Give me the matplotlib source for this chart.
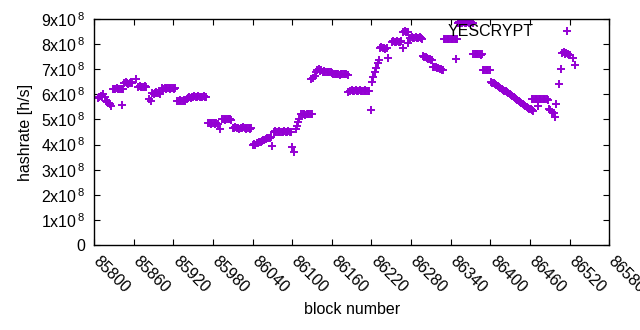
import matplotlib
matplotlib.use("Agg")
import matplotlib.pyplot as plt
import matplotlib.transforms as mtransforms
from matplotlib.ticker import FixedLocator, FuncFormatter

plt.rcParams["font.family"] = ["Liberation Sans", "DejaVu Sans"]
plt.rcParams["mathtext.fontset"] = "custom"
plt.rcParams["mathtext.rm"] = "Liberation Sans"

# block number / hashrate (x1e8 h/s)
blocks = [
    85806, 85808, 85810, 85812, 85814, 85816, 85818, 85820, 85822, 85824, 85826,
    85828, 85830, 85832, 85834, 85836, 85838, 85840, 85842, 85844, 85843,
    85846, 85848, 85850, 85852, 85854, 85856, 85858, 85864,
    85867, 85869, 85871, 85873, 85875, 85877, 85879, 85883, 85886,
    85888, 85890, 85892, 85894, 85896, 85898, 85900,
    85903, 85905, 85907, 85909, 85911, 85913, 85915, 85917, 85919, 85921, 85923,
    85926, 85928, 85930, 85932, 85934, 85936, 85938, 85940, 85942, 85944, 85946,
    85948, 85950, 85952, 85954, 85956, 85958, 85960, 85962, 85964, 85966, 85968, 85970,
    85973, 85975, 85977, 85979, 85981, 85983, 85985, 85987, 85991,
    85994, 85996, 85998, 86000, 86002, 86004, 86006, 86008,
    86010, 86012, 86014, 86016, 86018, 86020, 86022, 86024, 86026, 86028, 86030,
    86032, 86034, 86036, 86038,
    86040, 86042, 86044, 86046, 86048,
    86050, 86052, 86054, 86056, 86058, 86060, 86062, 86064, 86066, 86068, 86070,
    86072, 86074, 86076, 86078, 86080, 86082, 86084, 86086, 86088, 86090, 86092,
    86094, 86096, 86098,
    86100, 86103, 86105, 86107, 86109, 86111,
    86114, 86116, 86118, 86120, 86122, 86124, 86126, 86128, 86130,
    86128, 86131, 86134,
    86136, 86138, 86140, 86142, 86144, 86146, 86148, 86150, 86152, 86154, 86156,
    86158, 86160,
    86162, 86164, 86166, 86168, 86170, 86172, 86174, 86176, 86178, 86180, 86182,
    86184, 86185,
    86188, 86190, 86192, 86194, 86196, 86198, 86200, 86202, 86204, 86206, 86208,
    86210, 86212, 86214, 86216,
    86220, 86221, 86223, 86225, 86227, 86230, 86232,
    86233, 86235, 86237, 86239, 86241, 86243, 86245,
    86251, 86253, 86255, 86257, 86259, 86261, 86263, 86265, 86268, 86276,
    86268, 86270, 86272, 86274, 86276,
    86279, 86281, 86283, 86285, 86287, 86289, 86291, 86293, 86295, 86297,
    86298, 86300, 86302, 86304, 86306, 86308, 86310, 86312,
    86313, 86315, 86317, 86319, 86321, 86323, 86325, 86327, 86329,
    86330, 86332, 86334, 86336, 86338, 86340, 86342, 86344, 86346, 86348, 86350, 86348,
    86351, 86353, 86355, 86357, 86359, 86361, 86363, 86365, 86367, 86369, 86371, 86373,
    86374, 86376, 86378, 86380, 86382, 86384, 86386, 86388,
    86389, 86391, 86393, 86395, 86397, 86399,
    86401, 86403, 86405, 86407, 86409, 86411, 86413, 86415, 86417, 86419, 86421,
    86423, 86425, 86427, 86429, 86431, 86433,
    86435, 86437, 86439, 86441, 86443, 86445, 86447, 86449, 86451, 86453, 86455,
    86457, 86459, 86461, 86463, 86465,
    86463, 86465, 86467, 86469, 86471, 86473, 86475, 86477, 86479, 86481, 86483,
    86485, 86487, 86472,
    86488, 86490, 86493, 86496, 86498, 86500, 86504, 86507,
    86509, 86511, 86513, 86515, 86517, 86519, 86521, 86525, 86528,
]
hashrate = [
    5.85, 5.90, 5.95, 5.90, 6.00, 5.90, 5.75, 5.70, 5.65, 5.60, 5.55,
    6.20, 6.22, 6.20, 6.25, 6.20, 6.20, 6.22, 6.20, 6.20, 5.58,
    6.45, 6.50, 6.45, 6.42, 6.45, 6.48, 6.45, 6.62,
    6.30, 6.32, 6.28, 6.30, 6.30, 6.32, 6.30, 5.80, 5.72,
    6.05, 6.00, 6.05, 6.08, 6.05, 6.05, 6.03,
    6.25, 6.22, 6.25, 6.22, 6.25, 6.25, 6.22, 6.25, 6.25, 6.22, 6.25,
    5.75, 5.75, 5.78, 5.72, 5.75, 5.78, 5.75, 5.80, 5.85, 5.90, 5.85,
    5.90, 5.90, 5.92, 5.90, 5.90, 5.92, 5.90, 5.88, 5.90, 5.92, 5.90, 5.88,
    4.85, 4.85, 4.82, 4.85, 4.85, 4.82, 4.85, 4.80, 4.60,
    5.00, 5.02, 4.98, 5.00, 5.00, 5.02, 5.00, 4.98,
    4.65, 4.65, 4.68, 4.65, 4.65, 4.62, 4.65, 4.65, 4.68, 4.65, 4.62,
    4.65, 4.65, 4.63, 4.65,
    4.00, 4.02, 4.00, 4.05, 4.05,
    4.12, 4.12, 4.15, 4.18, 4.20, 4.22, 4.25, 4.25, 4.28, 4.30, 3.95,
    4.50, 4.52, 4.50, 4.50, 4.52, 4.50, 4.50, 4.50, 4.52, 4.50, 4.50,
    4.52, 4.50, 4.50,
    3.90, 3.72, 4.60, 4.75, 4.90, 5.00,
    5.20, 5.22, 5.20, 5.18, 5.20, 5.20, 5.22, 5.20, 5.20,
    6.60, 6.65, 6.72,
    6.90, 6.95, 7.00, 6.92, 6.95, 6.90, 6.92, 6.90, 6.88, 6.90, 6.90,
    6.88, 6.85,
    6.80, 6.80, 6.82, 6.80, 6.80, 6.78, 6.80, 6.80, 6.82, 6.80, 6.80,
    6.78, 6.10,
    6.15, 6.18, 6.15, 6.15, 6.18, 6.15, 6.15, 6.18, 6.15, 6.15, 6.15,
    6.18, 6.15, 6.15, 6.15,
    5.38, 6.50, 6.70, 6.90, 7.05, 7.25, 7.35,
    7.85, 7.88, 7.85, 7.85, 7.82, 7.85, 7.45,
    8.10, 8.12, 8.10, 8.10, 8.12, 8.10, 8.10, 8.12, 7.85, 8.05,
    8.50, 8.52, 8.50, 8.48, 8.50,
    8.25, 8.27, 8.25, 8.25, 8.27, 8.25, 8.25, 8.27, 8.25, 8.22,
    7.52, 7.50, 7.48, 7.45, 7.42, 7.40, 7.38, 7.35,
    7.10, 7.10, 7.08, 7.05, 7.05, 7.00, 7.00, 6.98, 6.95,
    8.20, 8.22, 8.20, 8.20, 8.22, 8.20, 8.20, 8.22, 8.20, 8.20, 8.20, 7.40,
    8.85, 8.87, 8.85, 8.85, 8.87, 8.85, 8.85, 8.87, 8.85, 8.85, 8.87, 8.85,
    7.60, 7.62, 7.60, 7.60, 7.62, 7.60, 7.58, 7.60,
    6.95, 6.97, 6.95, 6.95, 6.97, 6.95,
    6.50, 6.47, 6.44, 6.40, 6.37, 6.33, 6.30, 6.26, 6.22, 6.18, 6.15,
    6.12, 6.08, 6.05, 6.02, 5.98, 5.95,
    5.90, 5.86, 5.82, 5.78, 5.74, 5.70, 5.66, 5.62, 5.58, 5.54, 5.50,
    5.46, 5.42, 5.40, 5.37, 5.35,
    5.80, 5.82, 5.80, 5.80, 5.82, 5.80, 5.80, 5.82, 5.80, 5.80, 5.82,
    5.80, 5.78, 5.55,
    5.42, 5.38, 5.30, 5.25, 5.10, 5.60, 6.40, 7.00,
    7.65, 7.68, 7.62, 7.65, 7.60, 7.58, 7.55, 7.45, 7.15,
]

x_ticks = list(range(85800, 86581, 60))
y_ticks = list(range(0, 10))
color = "#9400D3"

fig = plt.figure(figsize=(6.4, 3.3), dpi=100)
ax = fig.add_axes([0.147, 0.2576, 0.805, 0.6848])

ax.plot(blocks, [h * 1e8 for h in hashrate], ls="none", marker="+",
        ms=5.5, mew=1.4, color=color, label="YESCRYPT", antialiased=False)

ax.set_xlim(85800, 86580)
ax.set_ylim(0, 9e8)
ax.xaxis.set_major_locator(FixedLocator(x_ticks))
ax.yaxis.set_major_locator(FixedLocator([v * 1e8 for v in y_ticks]))


def ylab(v, pos):
    n = int(round(v / 1e8))
    if n == 0:
        return "0"
    return r"$\mathregular{%dx10^{\,8}}$" % n


ax.yaxis.set_major_formatter(FuncFormatter(ylab))
ax.tick_params(direction="in", length=4, width=0.8, top=True, right=True,
               labelsize=11.5, colors="black")
ax.tick_params(axis="y", pad=6)
ax.tick_params(axis="x", pad=6)
shift = mtransforms.ScaledTranslation(5 / 72, 0, fig.dpi_scale_trans)
for lbl in ax.get_xticklabels():
    lbl.set_rotation(-45)
    lbl.set_ha("left")
    lbl.set_va("top")
    lbl.set_rotation_mode("anchor")
    lbl.set_transform(lbl.get_transform() + shift)

for sp in ax.spines.values():
    sp.set_linewidth(1.0)

ax.set_xlabel("block number", fontsize=11.5, labelpad=5)
ax.set_ylabel("hashrate [h/s]", fontsize=11.5, labelpad=6)

ax.legend(loc="upper right", bbox_to_anchor=(1 - 20 / 515, 1.004),
          frameon=False, markerfirst=False, fontsize=11.5, borderaxespad=0,
          handlelength=2.0, handletextpad=1.1)

fig.savefig("out.png", dpi=100)
